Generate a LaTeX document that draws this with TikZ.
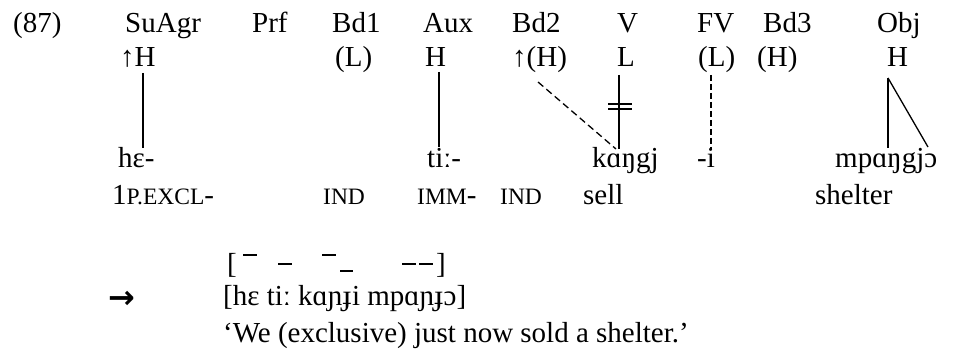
\documentclass[tikz,border=0pt]{standalone}
\usepackage{fontspec}
\setmainfont{Liberation Serif}
\newfontfamily\arrowfont{DejaVu Sans}
\newcommand{\smc}[1]{{\fontsize{23.5}{24}\selectfont #1}}
\begin{document}
\begin{tikzpicture}[x=1pt,y=-1pt,
  txt/.style={anchor=base west, inner sep=0pt, font=\fontsize{29}{34}\selectfont},
  assoc/.style={line width=1.3pt},
  dassoc/.style={line width=1.3pt, dash pattern=on 7pt off 4pt},
  tonebar/.style={line width=1.6pt}]
\useasboundingbox (0,0) rectangle (954,352);
% row 1: morpheme slots
\node[txt] (ex)   at (13,33)  {(87)};
\node[txt] (lSu)  at (125,33) {SuAgr};
\node[txt] (lPrf) at (252,33) {Prf};
\node[txt] (lBd1) at (332,33) {Bd1};
\node[txt] (lAux) at (423,33) {Aux};
\node[txt] (lBd2) at (512,33) {Bd2};
\node[txt] (lV)   at (617,33) {V};
\node[txt] (lFV)  at (697,33) {FV};
\node[txt] (lBd3) at (763,33) {Bd3};
\node[txt] (lObj) at (877,33) {Obj};
% row 2: tones
\node[txt] (tSu)  at (120,67) {↑H};
\node[txt] (tBd1) at (335,67) {(L)};
\node[txt] (tAux) at (425,67) {H};
\node[txt] (tBd2) at (512,67) {↑(H)};
\node[txt] (tV)   at (617,67) {L};
\node[txt] (tFV)  at (698,67) {(L)};
\node[txt] (tBd3) at (757,67) {(H)};
\node[txt] (tObj) at (887,67) {H};
% row 3: segments
\node[txt] (sSu)  at (118,168) {hɛ-};
\node[txt] (sAux) at (427,168) {tiː-};
\node[txt] (sV)   at (592,168) {kɑŋgj};
\node[txt] (sFV)  at (697,168) {-i};
\node[txt] (sObj) at (835,168) {mpɑŋgjɔ};
% row 4: glosses
\node[txt] (gSu)  at (112,205) {1\smc{P.EXCL}-};
\node[txt] (gBd1) at (323,205) {\smc{IND}};
\node[txt] (gAux) at (417,205) {\smc{IMM}-};
\node[txt] (gBd2) at (500,205) {\smc{IND}};
\node[txt] (gV)   at (583,205) {sell};
\node[txt] (gObj) at (815,205) {shelter};
% association lines
\coordinate (suTop) at (143,73);  \coordinate (suBot) at (143,148);
\coordinate (auxTop) at (439,72); \coordinate (auxBot) at (439,147);
\coordinate (bdTop) at (538,82);  \coordinate (vBot) at (619,149);
\coordinate (vTop) at (619,75);
\coordinate (fvTop) at (711,75);  \coordinate (fvBot) at (711,150);
\coordinate (obTop) at (888,78);  \coordinate (obBot) at (888,148);
\coordinate (obBot2) at (928,147);
\coordinate (cut1a) at (608,104); \coordinate (cut1b) at (632,104);
\coordinate (cut2a) at (608,109); \coordinate (cut2b) at (632,109);
\draw[assoc] (suTop) -- (suBot);
\draw[assoc] (auxTop) -- (auxBot);
\draw[dassoc] (bdTop) -- ([xshift=-3pt]vBot);
\draw[assoc] (vTop) -- (vBot);
\draw[assoc] (cut1a) -- (cut1b);
\draw[assoc] (cut2a) -- (cut2b);
\draw[dassoc, dash pattern=on 6pt off 3pt] (fvTop) -- (fvBot);
\draw[assoc] (obTop) -- (obBot);
\draw[assoc] (obTop) -- (obBot2);
% surface tones
\node[txt] (lbr) at (227,274) {[};
\node[txt] (rbr) at (436,274) {]};
\coordinate (h1a) at (243,255); \coordinate (h1b) at (257,255);
\coordinate (m1a) at (278,264); \coordinate (m1b) at (292,264);
\coordinate (h2a) at (322,255); \coordinate (h2b) at (336,255);
\coordinate (l1a) at (340,271); \coordinate (l1b) at (353,271);
\coordinate (m2a) at (402,264); \coordinate (m2b) at (416,264);
\coordinate (m3a) at (419,264); \coordinate (m3b) at (433,264);
\draw[tonebar] (h1a) -- (h1b);
\draw[tonebar] (m1a) -- (m1b);
\draw[tonebar] (h2a) -- (h2b);
\draw[tonebar] (l1a) -- (l1b);
\draw[tonebar] (m2a) -- (m2b);
\draw[tonebar] (m3a) -- (m3b);
% output
\node[anchor=base west, inner sep=0pt, font=\arrowfont\bfseries\fontsize{32}{32}\selectfont] (arr) at (108,309) {→};
\node[txt] (phon) at (223,306) {[hɛ tiː kɑɲɟi mpɑɲɟɔ]};
\node[txt] (trans) at (223,343) {‘We (exclusive) just now sold a shelter.’};
\end{tikzpicture}
\end{document}
